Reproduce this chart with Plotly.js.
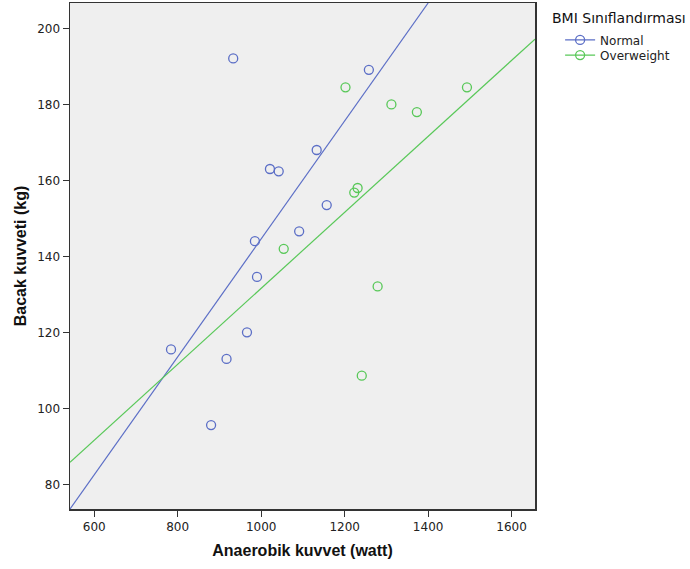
<!DOCTYPE html>
<html>
<head>
<meta charset="utf-8">
<script src="https://cdn.plot.ly/plotly-3.0.1.min.js"></script>
<style>html,body{margin:0;padding:0;background:#fff;}#chart{width:690px;height:569px;}</style>
</head>
<body>
<div id="chart"></div>
<script>
// Normal group (Anaerobik kuvvet, Bacak kuvveti)
const normalX = [933, 1021, 1042, 1133, 1157, 1091, 985, 990, 966, 917, 784, 880, 1258];
const normalY = [192.1, 163.0, 162.4, 168.0, 153.5, 146.6, 144.0, 134.6, 120.0, 113.0, 115.5, 95.6, 189.1];
// Overweight group
const overX = [1202, 1312, 1373, 1493, 1231, 1223, 1054, 1279, 1241];
const overY = [184.5, 180.0, 178.0, 184.5, 158.0, 156.8, 142.0, 132.1, 108.6];
// Fit lines (end points)
const normalFitX = [542, 1400];
const normalFitY = [73.5, 206.7];
const overFitX = [542, 1656];
const overFitY = [85.8, 197.2];

const groupNames = ["Normal", "Overweight"];
const colors = ["#5B6EC6", "#58C858"];

const mk = (c) => ({symbol: "circle-open", size: 9, color: c, line: {width: 1.3}});

const traces = [
  {x: normalX, y: normalY, mode: "markers", type: "scatter", showlegend: false, marker: mk(colors[0])},
  {x: overX, y: overY, mode: "markers", type: "scatter", showlegend: false, marker: mk(colors[1])},
  {x: normalFitX, y: normalFitY, mode: "lines", type: "scatter", showlegend: false,
   line: {color: colors[0], width: 1.2}},
  {x: overFitX, y: overFitY, mode: "lines", type: "scatter", showlegend: false,
   line: {color: colors[1], width: 1.2}},
  {x: [null], y: [null], mode: "lines+markers", type: "scatter", name: groupNames[0], legend: "legend",
   line: {color: colors[0], width: 1.2}, marker: mk(colors[0])},
  {x: [null], y: [null], mode: "lines+markers", type: "scatter", name: groupNames[1], legend: "legend2",
   line: {color: colors[1], width: 1.2}, marker: mk(colors[1])}
];

const titleFont = {size: 16, color: "#111", family: "Liberation Sans", weight: "bold"};
const legendCommon = {
  xanchor: "left", yanchor: "middle",
  font: {size: 12, color: "#222"},
  itemwidth: 30, bgcolor: "rgba(0,0,0,0)"
};

const layout = {
  width: 690, height: 569,
  margin: {l: 70, r: 155, t: 3, b: 60},
  paper_bgcolor: "#ffffff",
  plot_bgcolor: "#EFEFEF",
  font: {family: "DejaVu Sans", size: 12, color: "#222"},
  xaxis: {
    range: [542, 1656],
    tickvals: [600, 800, 1000, 1200, 1400, 1600],
    showgrid: false, zeroline: false,
    showline: true, mirror: true, linecolor: "#333", linewidth: 1.5,
    ticks: "outside", ticklen: 6, tickcolor: "#333", tickwidth: 1,
    tickfont: {size: 12, color: "#222"},
    title: {text: "Anaerobik kuvvet (watt)", font: titleFont, standoff: 12}
  },
  yaxis: {
    range: [73.5, 206.7],
    tickvals: [80, 100, 120, 140, 160, 180, 200],
    showgrid: false, zeroline: false,
    showline: true, mirror: true, linecolor: "#333", linewidth: 1.5,
    ticks: "outside", ticklen: 6, tickcolor: "#333", tickwidth: 1,
    tickfont: {size: 12, color: "#222"},
    title: {text: "Bacak kuvveti (kg)", font: titleFont, standoff: 6}
  },
  legend: Object.assign({x: 1.054, y: 0.927}, legendCommon),
  legend2: Object.assign({x: 1.054, y: 0.897}, legendCommon),
  annotations: [{
    text: "BMI Sınıflandırması", xref: "paper", yref: "paper",
    x: 1.033, y: 0.99, xanchor: "left", yanchor: "top", showarrow: false,
    font: {size: 14, color: "#111"}
  }]
};

Plotly.newPlot("chart", traces, layout, {displayModeBar: false, staticPlot: true});
</script>
</body>
</html>
